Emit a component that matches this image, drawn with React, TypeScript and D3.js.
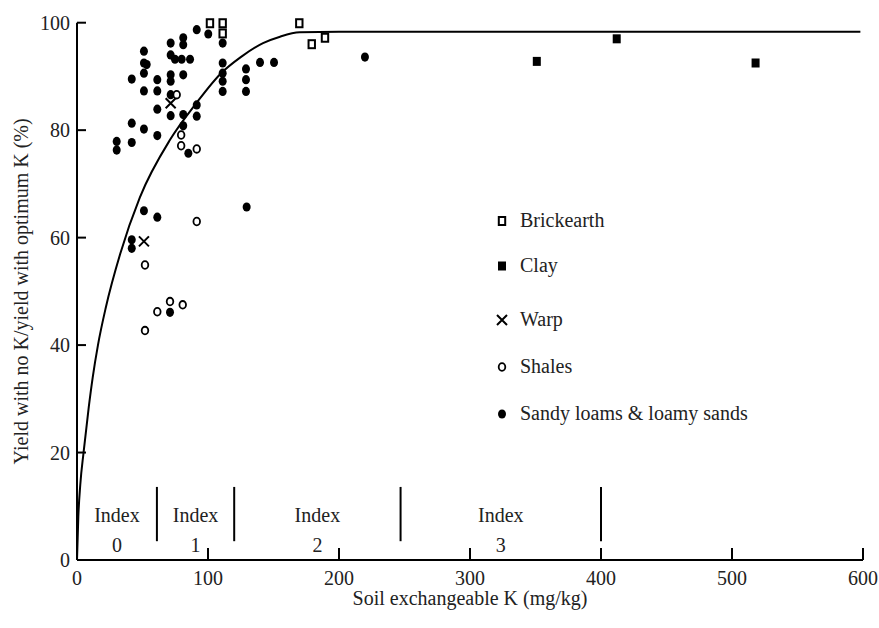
import React from "react";
import * as d3 from "d3";

const xTicks = [0, 100, 200, 300, 400, 500, 600];
const yTicks = [0, 20, 40, 60, 80, 100];

const brickearth: [number, number][] = [
  [101.5, 99.9], [111.2, 99.9], [111.2, 98.0], [169.7, 99.9], [179.2, 96.0], [189.3, 97.2],
];
const clay: [number, number][] = [[351, 92.8], [412, 97.0], [518, 92.5]];
const warp: [number, number][] = [[71.5, 85.0], [51.1, 59.3]];
const shales: [number, number][] = [
  [76.1, 86.6], [79.5, 79.1], [79.5, 77.1], [91.4, 76.5], [91.4, 63.0],
  [51.9, 54.9], [71, 48.1], [80.7, 47.5], [61.3, 46.2], [51.9, 42.7],
];
const sandy: [number, number][] = [
  [91.4, 98.7], [100.2, 97.9], [111.2, 96.2], [81.1, 97.2], [81.1, 95.9], [71.5, 96.2],
  [71.5, 94.0], [74.8, 93.2], [79.9, 93.2], [86.3, 93.2], [51.1, 94.7], [51.1, 92.5],
  [53.2, 92.2], [51.1, 90.6], [41.8, 89.5], [51.1, 87.3], [61.3, 89.4], [61.3, 87.3],
  [71.5, 90.3], [71.5, 89.1], [81.1, 90.3], [71.5, 86.6], [61.3, 83.9], [71.5, 82.7],
  [81.1, 82.9], [81.1, 80.8], [91.4, 84.7], [91.4, 82.6], [111.2, 92.5], [111.2, 90.6],
  [111.2, 89.1], [111.2, 87.2], [129, 91.4], [129, 89.4], [129, 87.2], [139.7, 92.6],
  [150.4, 92.6], [41.8, 81.3], [51.1, 80.2], [61.3, 79.0], [41.8, 77.7], [30.3, 77.9],
  [30.3, 76.3], [85, 75.7], [129.5, 65.7], [51.1, 65.0], [61.3, 63.8], [41.8, 59.6],
  [41.8, 58.0], [71, 46.1], [219.8, 93.6],
];

const curveX = [0, 1, 2.5, 5, 9, 12, 16, 22, 33, 48, 71, 91, 110, 125, 142, 155, 170, 200, 300, 400, 500, 598];
const curveY = [0, 8, 14, 20, 28.5, 34, 40, 47, 57, 67.5, 78.2, 85, 90.6, 93.6, 96.2, 97.4, 98.2, 98.3, 98.3, 98.3, 98.3, 98.3];

const indexBounds = [61, 120, 247, 400];
const indexLabels = ["0", "1", "2", "3"];
const indexStarts = [0, 61, 120, 247];

const legendItems = ["Brickearth", "Clay", "Warp", "Shales", "Sandy loams & loamy sands"];

const FONT = "'Liberation Serif', 'Times New Roman', 'DejaVu Serif', serif";
const TXT = "#222";

export default function App() {
  const x = d3.scaleLinear().domain([0, 600]).range([77, 863]);
  const y = d3.scaleLinear().domain([0, 100]).range([560, 22.7]);
  const line = d3
    .line<number>()
    .x((_, i) => x(curveX[i]))
    .y((d) => y(d))
    .curve(d3.curveMonotoneX);

  const legendY = [221, 266, 320, 367, 414];
  const lx = 502;

  const marker = (kind: number, cx: number, cy: number, key: string | number) => {
    if (kind === 0)
      return <rect key={key} x={cx - 3.2} y={cy - 4} width={6.4} height={8} fill="#fff" stroke="#000" strokeWidth={2} />;
    if (kind === 1)
      return <rect key={key} x={cx - 4} y={cy - 4.5} width={8} height={9} fill="#000" />;
    if (kind === 2)
      return (
        <path key={key} d={`M${cx - 5},${cy - 5}L${cx + 5},${cy + 5}M${cx - 5},${cy + 5}L${cx + 5},${cy - 5}`} stroke="#000" strokeWidth={2} />
      );
    if (kind === 3)
      return <ellipse key={key} cx={cx} cy={cy} rx={3.3} ry={3.8} fill="#fff" stroke="#000" strokeWidth={1.8} />;
    return <ellipse key={key} cx={cx} cy={cy} rx={4} ry={4.6} fill="#000" />;
  };

  return (
    <svg width={879} height={628} style={{ position: "absolute", left: 0, top: 0, background: "#fff" }}>
      {/* axes */}
      <line x1={x(0)} x2={x(600)} y1={y(0)} y2={y(0)} stroke="#000" strokeWidth={2} />
      <line x1={x(0)} x2={x(0)} y1={y(0)} y2={y(100)} stroke="#000" strokeWidth={2} />
      {xTicks.map((t) => (
        <g key={"xt" + t}>
          <line x1={x(t)} x2={x(t)} y1={y(0)} y2={y(0) - 12} stroke="#000" strokeWidth={2} />
          <text x={x(t)} y={585} textAnchor="middle" fontFamily={FONT} fontSize={20} fill={TXT}>
            {t}
          </text>
        </g>
      ))}
      {yTicks.map((t) => (
        <g key={"yt" + t}>
          <line x1={x(0)} x2={x(0) + 9} y1={y(t)} y2={y(t)} stroke="#000" strokeWidth={2} />
          <text x={70} y={y(t) + 7} textAnchor="end" fontFamily={FONT} fontSize={20} fill={TXT}>
            {t}
          </text>
        </g>
      ))}
      <text x={470} y={605} textAnchor="middle" fontFamily={FONT} fontSize={20} fill={TXT}>
        Soil exchangeable K (mg/kg)
      </text>
      <text
        transform={`translate(28,${y(50)}) rotate(-90)`}
        textAnchor="middle"
        fontFamily={FONT}
        fontSize={20}
        fill={TXT}
      >
        Yield with no K/yield with optimum K (%)
      </text>

      {/* index boundaries */}
      {indexBounds.map((b) => (
        <line key={"ib" + b} x1={x(b)} x2={x(b)} y1={y(13.6)} y2={y(3.5)} stroke="#000" strokeWidth={2} />
      ))}
      {indexLabels.map((l, i) => {
        const cx = x((indexStarts[i] + indexBounds[i]) / 2);
        return (
          <g key={"il" + l}>
            <text x={cx} y={y(7.1)} textAnchor="middle" fontFamily={FONT} fontSize={20} fill={TXT}>
              Index
            </text>
            <text x={cx} y={y(1.5)} textAnchor="middle" fontFamily={FONT} fontSize={20} fill={TXT}>
              {l}
            </text>
          </g>
        );
      })}

      {/* curve */}
      <path d={line(curveY) || ""} fill="none" stroke="#000" strokeWidth={2} />

      {/* points */}
      {sandy.map((d, i) => marker(4, x(d[0]), y(d[1]), "s" + i))}
      {shales.map((d, i) => marker(3, x(d[0]), y(d[1]), "h" + i))}
      {warp.map((d, i) => marker(2, x(d[0]), y(d[1]), "w" + i))}
      {brickearth.map((d, i) => marker(0, x(d[0]), y(d[1]), "b" + i))}
      {clay.map((d, i) => marker(1, x(d[0]), y(d[1]), "c" + i))}

      {/* legend */}
      {legendItems.map((l, i) => (
        <g key={"lg" + i}>
          {marker(i, lx, legendY[i], "lm" + i)}
          <text x={520} y={legendY[i] + 6} fontFamily={FONT} fontSize={20} fill={TXT}>
            {l}
          </text>
        </g>
      ))}
    </svg>
  );
}
